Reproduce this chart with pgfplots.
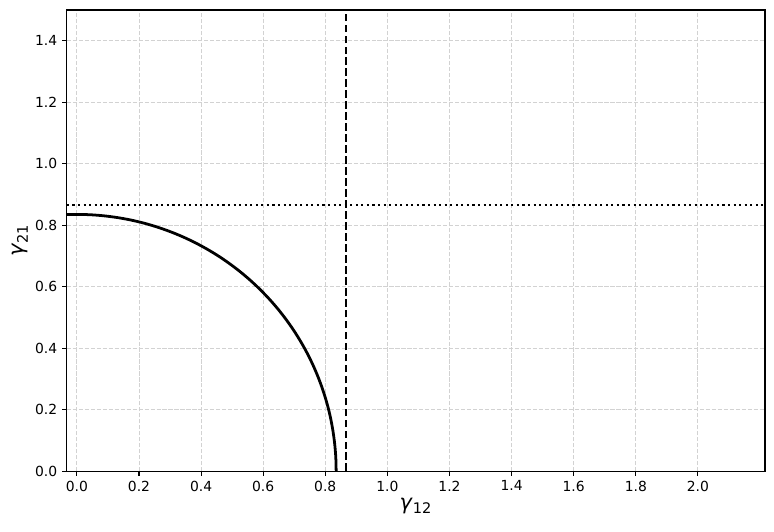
\documentclass[border=0pt]{standalone}
\usepackage{fontspec}
\setmainfont{DejaVu Sans}
\usepackage{pgfplots}
\pgfplotsset{compat=1.18}

\begin{document}
\begin{tikzpicture}
\begin{axis}[
    scale only axis,
    width=502.6pt, height=332pt,
    xmin=-0.032, xmax=2.216,
    ymin=0, ymax=1.5,
    xtick={0,0.2,...,2.01},
    ytick={0,0.2,...,1.41},
    axis line style={line width=0.8pt},
    tick align=outside,
    tick pos=left,
    major tick length=3.5pt,
    tick style={black, line width=0.8pt},
    ticklabel style={font=\fontsize{10}{12}\selectfont},
    /pgf/number format/.cd, fixed, fixed zerofill, precision=1, assume math mode=true,
    /pgfplots/.cd,
    grid=major,
    grid style={dash pattern=on 3pt off 1.3pt, gray!35, line width=0.6pt},
    xlabel={\fontsize{15}{17}\selectfont\textit{γ}\textsubscript{12}},
    ylabel={\fontsize{15}{17}\selectfont\textit{γ}\textsubscript{21}},
    xlabel style={yshift=2pt},
    ylabel style={yshift=-2pt},
]
% quarter circle, radius ~0.835
\addplot[black, line width=2pt, smooth] coordinates {
  (0.8350,0.0000) (0.8339,0.0437) (0.8304,0.0873) (0.8247,0.1306)
  (0.8168,0.1736) (0.8066,0.2161) (0.7941,0.2580) (0.7795,0.2992)
  (0.7628,0.3396) (0.7440,0.3791) (0.7231,0.4175) (0.7003,0.4548)
  (0.6755,0.4908) (0.6489,0.5255) (0.6205,0.5587) (0.5904,0.5904)
  (0.5587,0.6205) (0.5255,0.6489) (0.4908,0.6755) (0.4548,0.7003)
  (0.4175,0.7231) (0.3791,0.7440) (0.3396,0.7628) (0.2992,0.7795)
  (0.2580,0.7941) (0.2161,0.8066) (0.1736,0.8168) (0.1306,0.8247)
  (0.0873,0.8304) (0.0437,0.8339) (0.0000,0.8350) (-0.0320,0.8344)
};
% vertical dashed line
\addplot[black, line width=1.5pt, dash pattern=on 5.5pt off 2.4pt] coordinates {
  (0.866,0) (0.866,1.5)
};
% horizontal dotted line
\addplot[black, line width=1.5pt, dash pattern=on 1.5pt off 2.5pt] coordinates {
  (-0.032,0.866) (2.216,0.866)
};
\end{axis}
\pgfresetboundingbox
\path ([shift={(-48.2pt,-43.2pt)}]current axis.south west) rectangle ([shift={(6.5pt,7.2pt)}]current axis.north east);
\end{tikzpicture}
\end{document}
